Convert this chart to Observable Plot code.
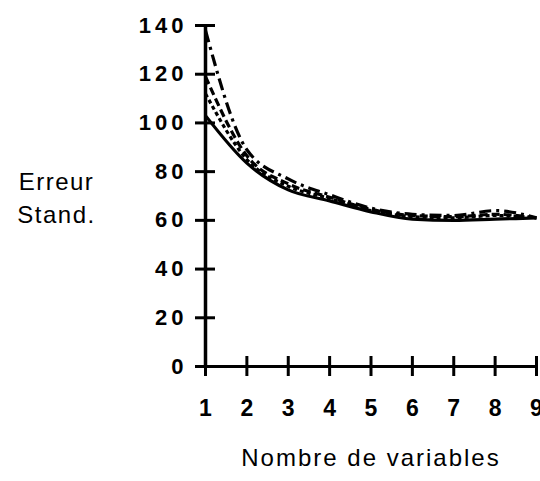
<!DOCTYPE html>
<html>
<head>
<meta charset="utf-8">
<script src="https://cdn.jsdelivr.net/npm/d3@7"></script>
<script src="https://cdn.jsdelivr.net/npm/@observablehq/plot@0.6"></script>
<style>
  html, body { margin: 0; padding: 0; background: #fff; }
  svg { display: block; }
</style>
</head>
<body>
<div id="chart"></div>
<script>
// Data
const nbVariables = [1, 2, 3, 4, 5, 6, 7, 8, 9];
const serieSolid   = [103, 83.5, 72.5, 68, 63.5, 60.5, 60, 60.5, 61];
const serieDotted  = [112, 85, 74, 69, 64, 61.5, 61, 62, 61];
const serieDashed  = [119, 86.5, 75, 69.5, 64.5, 62, 61.5, 62.5, 61];
const serieDashDot = [138, 89, 77, 70.5, 65, 62.5, 62, 64, 61];
const yTicks = [0, 20, 40, 60, 80, 100, 120, 140];
const xTicks = [1, 2, 3, 4, 5, 6, 7, 8, 9];
const yTitle = "Erreur\nStand.";
const xTitle = "Nombre de variables";

const toRows = (vals) => nbVariables.map((x, i) => ({x, y: vals[i]}));

const lineStyle = {x: "x", y: "y", stroke: "black", strokeWidth: 3.2, curve: "monotone-x", strokeLinecap: "butt"};

const chart = Plot.plot({
  width: 540,
  height: 481,
  marginLeft: 205,
  marginRight: 4,
  marginTop: 25,
  marginBottom: 115,
  style: {fontFamily: "'Liberation Sans', Arial, sans-serif", color: "black", background: "white"},
  x: {domain: [1, 9]},
  y: {domain: [0, 140]},
  marks: [
    // tick marks crossing the axes
    Plot.axisY({ticks: yTicks, tickSize: 20, dx: 10, strokeWidth: 3, tickFormat: () => "", label: null}),
    Plot.axisX({ticks: xTicks, tickSize: 20, dy: -10, strokeWidth: 3, tickFormat: () => "", label: null}),
    // tick labels
    Plot.axisY({ticks: yTicks, tickSize: 0, tickPadding: 18, fontSize: 22, fontWeight: "bold", label: null}),
    Plot.axisX({ticks: xTicks, tickSize: 0, tickPadding: 33, fontSize: 23, fontWeight: "bold", label: null}),
    // axis lines
    Plot.ruleX([1], {strokeWidth: 3.5}),
    Plot.ruleY([0], {strokeWidth: 3}),
    // series
    Plot.line(toRows(serieSolid), {...lineStyle}),
    Plot.line(toRows(serieDotted), {...lineStyle, strokeDasharray: "4,3"}),
    Plot.line(toRows(serieDashed), {...lineStyle, strokeDasharray: "8,4"}),
    Plot.line(toRows(serieDashDot), {...lineStyle, strokeDasharray: "12,5,3,5"}),
    // titles
    Plot.text([yTitle], {frameAnchor: "left", dx: -149, dy: 0, fontSize: 24, lineHeight: 1.35, textAnchor: "middle", fill: "black"}),
    Plot.text([xTitle], {frameAnchor: "bottom", dy: 99, fontSize: 24, textAnchor: "middle", fill: "black"})
  ]
});
// letter spacing (styling only)
const svg = d3.select(chart);
svg.selectAll('g[aria-label="y-axis tick label"] text').style("letter-spacing", "4px");
svg.selectAll('g[aria-label="text"] text').each(function() {
  const t = this.textContent;
  d3.select(this).style("letter-spacing", t.startsWith("Nombre") ? "2px" : "1.5px");
});
document.getElementById("chart").appendChild(chart);
</script>
</body>
</html>
